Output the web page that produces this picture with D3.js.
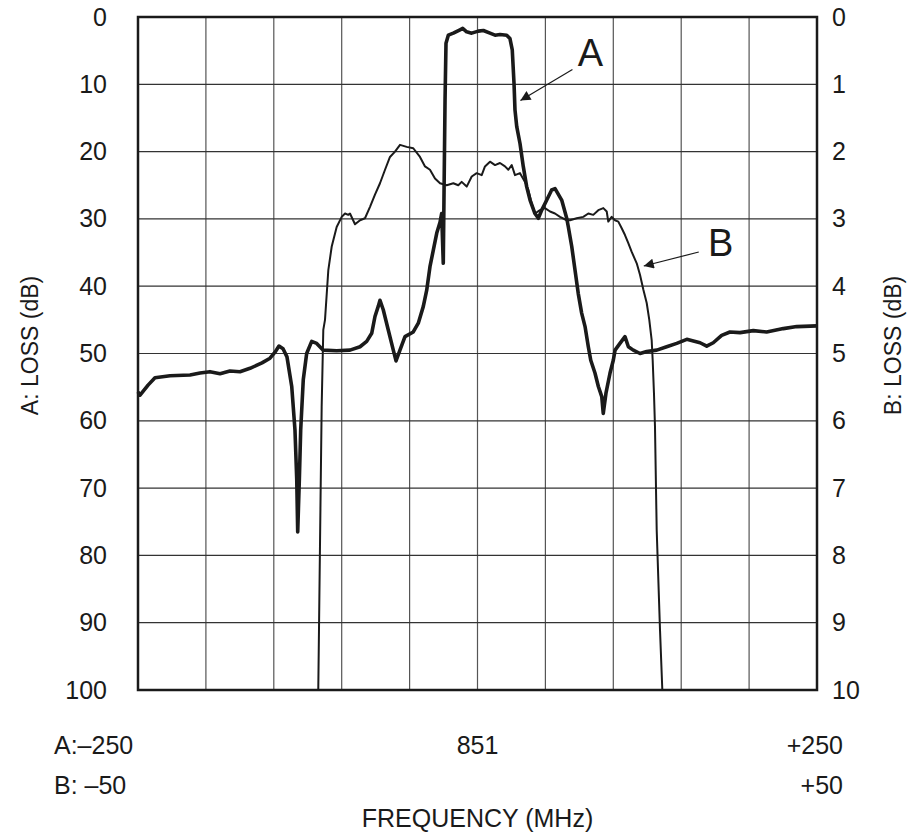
<!DOCTYPE html>
<html>
<head>
<meta charset="utf-8">
<script src="https://cdn.jsdelivr.net/npm/d3@7"></script>
<style>
  html, body { margin: 0; padding: 0; background: #fff; }
  svg { display: block; font-family: "Liberation Sans", Arial, Helvetica, sans-serif; }
</style>
</head>
<body>
<div id="chart"></div>
<script>
// Curve A: [offset from 851 MHz (MHz), loss (dB)] on the A scales
const curveA = [
  [-250, 55.7], [-248.5, 56.2], [-242.6, 54.7], [-237.5, 53.6], [-226.4, 53.3], [-211.7, 53.2],
  [-204.3, 52.9], [-197, 52.7], [-189.6, 53.0], [-182.3, 52.6], [-174.9, 52.7], [-167.5, 52.2],
  [-158.7, 51.4], [-152.8, 50.7], [-149.1, 49.8], [-146.2, 48.9], [-143.2, 49.3], [-140.3, 50.5],
  [-136.8, 54.9], [-134.4, 61.4], [-133.1, 68.8], [-132.4, 76.5], [-131.2, 68.8], [-130.2, 61.4],
  [-128.3, 53.9], [-125.8, 50.0], [-122.1, 48.2], [-118.4, 48.5], [-113.6, 49.5], [-103.7, 49.6],
  [-93.9, 49.5], [-86.5, 49.0], [-81.6, 48.2], [-77.9, 47.0], [-75.5, 44.5], [-73.1, 43.0],
  [-71.8, 42.1], [-69.4, 43.5], [-65.7, 46.5], [-62.0, 49.5], [-60.0, 51.1], [-57.1, 49.5],
  [-53.4, 47.5], [-47.3, 46.8], [-43.6, 45.5], [-39.9, 43.0], [-37.4, 40.6], [-35.0, 37.1],
  [-32.5, 34.6], [-30.0, 32.1], [-27.6, 30.5], [-26.4, 29.2], [-25.2, 36.6], [-24.7, 27.2],
  [-23.9, 12.3], [-23.2, 3.9], [-21.5, 2.7], [-17.8, 2.4], [-12.9, 1.9], [-10.9, 1.7],
  [-8.0, 2.2], [-4.3, 2.4], [0.6, 2.1], [4.3, 2.0], [9.2, 2.4], [12.9, 2.7], [16.6, 2.6],
  [21.5, 2.7], [23.9, 3.2], [25.6, 4.9], [26.9, 9.9], [27.6, 13.8], [28.9, 16.3], [31.3, 18.8],
  [33.7, 22.2], [36.2, 25.2], [38.7, 27.2], [42.3, 29.2], [44.8, 29.9], [47.3, 28.7], [51.0, 27.2],
  [54.6, 25.7], [57.1, 25.5], [62.0, 27.2], [65.7, 29.9], [66.9, 31.2], [69.4, 34.1], [71.8, 37.6],
  [74.2, 41.1], [76.7, 44.0], [79.2, 46.0], [81.6, 49.0], [83.4, 51.0], [86.5, 52.9], [89.0, 54.9],
  [91.5, 56.4], [92.6, 58.9], [94.6, 55.9], [97.6, 52.9], [100.0, 51.0], [101.3, 49.5], [104.9, 48.5],
  [108.6, 47.5], [111.1, 49.0], [114.7, 49.5], [119.7, 50.0], [124.6, 49.7], [132.0, 49.5],
  [139.3, 49.0], [146.7, 48.5], [154.1, 47.9], [163.9, 48.4], [168.8, 48.9], [173.6, 48.4],
  [179.8, 47.3], [185.9, 46.8], [193.3, 46.9], [203.1, 46.6], [212.9, 46.8], [225.2, 46.3],
  [235.1, 46.0], [250, 45.9]
];

// Curve B: [offset from 851 MHz (MHz), loss (dB)] on the B scales
const curveB = [
  [-23.45, 10.0], [-23.2, 7.87], [-22.95, 5.79], [-22.71, 4.65], [-22.46, 4.50], [-21.97, 3.76],
  [-21.47, 3.41], [-20.74, 3.12], [-20.0, 2.97], [-19.51, 2.92], [-19.03, 2.94], [-18.78, 2.92],
  [-18.04, 3.08], [-17.30, 3.02], [-16.57, 2.99], [-15.83, 2.82], [-15.10, 2.64], [-14.36, 2.47],
  [-13.62, 2.27], [-12.89, 2.08], [-12.15, 2.00], [-11.41, 1.90], [-10.43, 1.93], [-9.46, 1.95],
  [-8.47, 2.08], [-7.73, 2.22], [-7.0, 2.27], [-6.26, 2.40], [-5.52, 2.47], [-4.54, 2.50],
  [-3.56, 2.47], [-2.83, 2.50], [-2.33, 2.45], [-1.59, 2.52], [-0.85, 2.37], [-0.12, 2.32],
  [0.62, 2.35], [1.10, 2.22], [1.84, 2.15], [2.58, 2.20], [3.31, 2.17], [4.05, 2.22], [4.54, 2.27],
  [5.04, 2.20], [5.52, 2.35], [6.26, 2.32], [7.0, 2.45], [7.48, 2.57], [7.98, 2.77], [8.47, 2.92],
  [9.20, 2.87], [9.94, 2.84], [10.68, 2.89], [11.41, 2.92], [12.15, 2.97], [13.14, 3.02],
  [13.62, 3.02], [14.61, 2.99], [15.58, 2.97], [16.32, 2.92], [17.05, 2.94], [17.79, 2.87],
  [18.53, 2.84], [19.03, 2.89], [19.26, 3.04], [19.76, 2.97], [20.25, 3.02], [20.74, 3.04],
  [21.24, 3.14], [21.72, 3.24], [22.21, 3.36], [22.71, 3.49], [23.45, 3.66], [23.93, 3.83],
  [24.42, 4.05], [24.92, 4.25], [25.30, 4.50], [25.65, 4.80], [25.80, 5.10], [25.99, 5.59],
  [26.14, 6.09], [26.39, 7.62], [26.88, 9.11], [27.22, 10.0]
];

const ticksA = [0, 10, 20, 30, 40, 50, 60, 70, 80, 90, 100];
const ticksB = [0, 1, 2, 3, 4, 5, 6, 7, 8, 9, 10];
const freqGrid = [-250, -200, -150, -100, -50, 0, 50, 100, 150, 200, 250];
const freqLabelsA = ["A:\u2013250", "851", "+250"];
const freqLabelsB = ["B: \u201350", "+50"];

const W = 911, H = 832;
const m = { left: 138, top: 17, right: 94, bottom: 142 };
const iw = W - m.left - m.right, ih = H - m.top - m.bottom;

const xA = d3.scaleLinear().domain([-250, 250]).range([0, iw]);
const xB = d3.scaleLinear().domain([-50, 50]).range([0, iw]);
const yA = d3.scaleLinear().domain([0, 100]).range([0, ih]);
const yB = d3.scaleLinear().domain([0, 10]).range([0, ih]);

const ink = "#1a1a1a";

const svg = d3.select("#chart").append("svg")
  .attr("width", W).attr("height", H);

const g = svg.append("g").attr("transform", `translate(${m.left},${m.top})`);

// grid
g.append("g").selectAll("line").data(freqGrid.slice(1, -1)).enter().append("line")
  .attr("x1", d => xA(d)).attr("x2", d => xA(d))
  .attr("y1", 0).attr("y2", ih)
  .attr("stroke", "#555").attr("stroke-width", 1.2);
g.append("g").selectAll("line").data(ticksA.slice(1, -1)).enter().append("line")
  .attr("x1", 0).attr("x2", iw)
  .attr("y1", d => yA(d)).attr("y2", d => yA(d))
  .attr("stroke", "#333").attr("stroke-width", 1.2);

// curves
const lineA = d3.line().x(d => xA(d[0])).y(d => yA(d[1]));
const lineB = d3.line().x(d => xB(d[0])).y(d => yB(d[1]));

g.append("path").datum(curveB).attr("d", lineB)
  .attr("fill", "none").attr("stroke", ink).attr("stroke-width", 2)
  .attr("stroke-linejoin", "round");
g.append("path").datum(curveA).attr("d", lineA)
  .attr("fill", "none").attr("stroke", ink).attr("stroke-width", 3.6)
  .attr("stroke-linejoin", "round");

// frame
g.append("rect").attr("width", iw).attr("height", ih)
  .attr("fill", "none").attr("stroke", ink).attr("stroke-width", 2.5);

// left axis (A)
g.append("g").call(d3.axisLeft(yA).tickValues(ticksA).tickSize(0).tickPadding(31))
  .call(s => s.select(".domain").remove())
  .selectAll("text").attr("font-size", 25).attr("fill", ink)
  .attr("font-family", "inherit");

// right axis (B)
g.append("g").attr("transform", `translate(${iw},0)`)
  .call(d3.axisRight(yB).tickValues(ticksB).tickSize(0).tickPadding(15))
  .call(s => s.select(".domain").remove())
  .selectAll("text").attr("font-size", 25).attr("fill", ink)
  .attr("font-family", "inherit");

// axis titles
svg.append("text")
  .attr("transform", `translate(38,${m.top + ih / 2 - 8}) rotate(-90)`)
  .attr("text-anchor", "middle").attr("font-size", 23).attr("fill", ink)
  .text("A: LOSS (dB)");
svg.append("text")
  .attr("transform", `translate(901,${m.top + ih / 2 - 8}) rotate(-90)`)
  .attr("text-anchor", "middle").attr("font-size", 23).attr("fill", ink)
  .text("B: LOSS (dB)");

// frequency labels
const fl = svg.append("g").attr("font-size", 25).attr("fill", ink);
fl.append("text").attr("x", 54).attr("y", 754).text(freqLabelsA[0]);
fl.append("text").attr("x", m.left + xA(0)).attr("y", 754).attr("text-anchor", "middle").text(freqLabelsA[1]);
fl.append("text").attr("x", 843).attr("y", 754).attr("text-anchor", "end").text(freqLabelsA[2]);
fl.append("text").attr("x", 54).attr("y", 794).text(freqLabelsB[0]);
fl.append("text").attr("x", 843).attr("y", 794).attr("text-anchor", "end").text(freqLabelsB[1]);
fl.append("text").attr("x", m.left + xA(0)).attr("y", 827).attr("text-anchor", "middle")
  .text("FREQUENCY (MHz)");

// annotations A / B with arrows
svg.append("defs").append("marker")
  .attr("id", "arr").attr("viewBox", "0 0 10 10").attr("refX", 10).attr("refY", 5)
  .attr("markerWidth", 14).attr("markerHeight", 10).attr("markerUnits", "userSpaceOnUse")
  .attr("orient", "auto")
  .append("path").attr("d", "M0,0 L10,5 L0,10 Z").attr("fill", ink);

const tipA = [xA(27.2) + 6, yA(12.4)];
g.append("line").attr("x1", tipA[0] + 52).attr("y1", tipA[1] - 31)
  .attr("x2", tipA[0]).attr("y2", tipA[1])
  .attr("stroke", ink).attr("stroke-width", 1.2).attr("marker-end", "url(#arr)");
g.append("text").attr("x", tipA[0] + 70).attr("y", tipA[1] - 34)
  .attr("text-anchor", "middle").attr("font-size", 38).attr("fill", ink).text("A");

const tipB = [xB(23.9) + 4, yB(3.7)];
g.append("line").attr("x1", tipB[0] + 55).attr("y1", tipB[1] - 14)
  .attr("x2", tipB[0]).attr("y2", tipB[1])
  .attr("stroke", ink).attr("stroke-width", 1.2).attr("marker-end", "url(#arr)");
g.append("text").attr("x", tipB[0] + 77).attr("y", tipB[1] - 10)
  .attr("text-anchor", "middle").attr("font-size", 38).attr("fill", ink).text("B");
</script>
</body>
</html>
